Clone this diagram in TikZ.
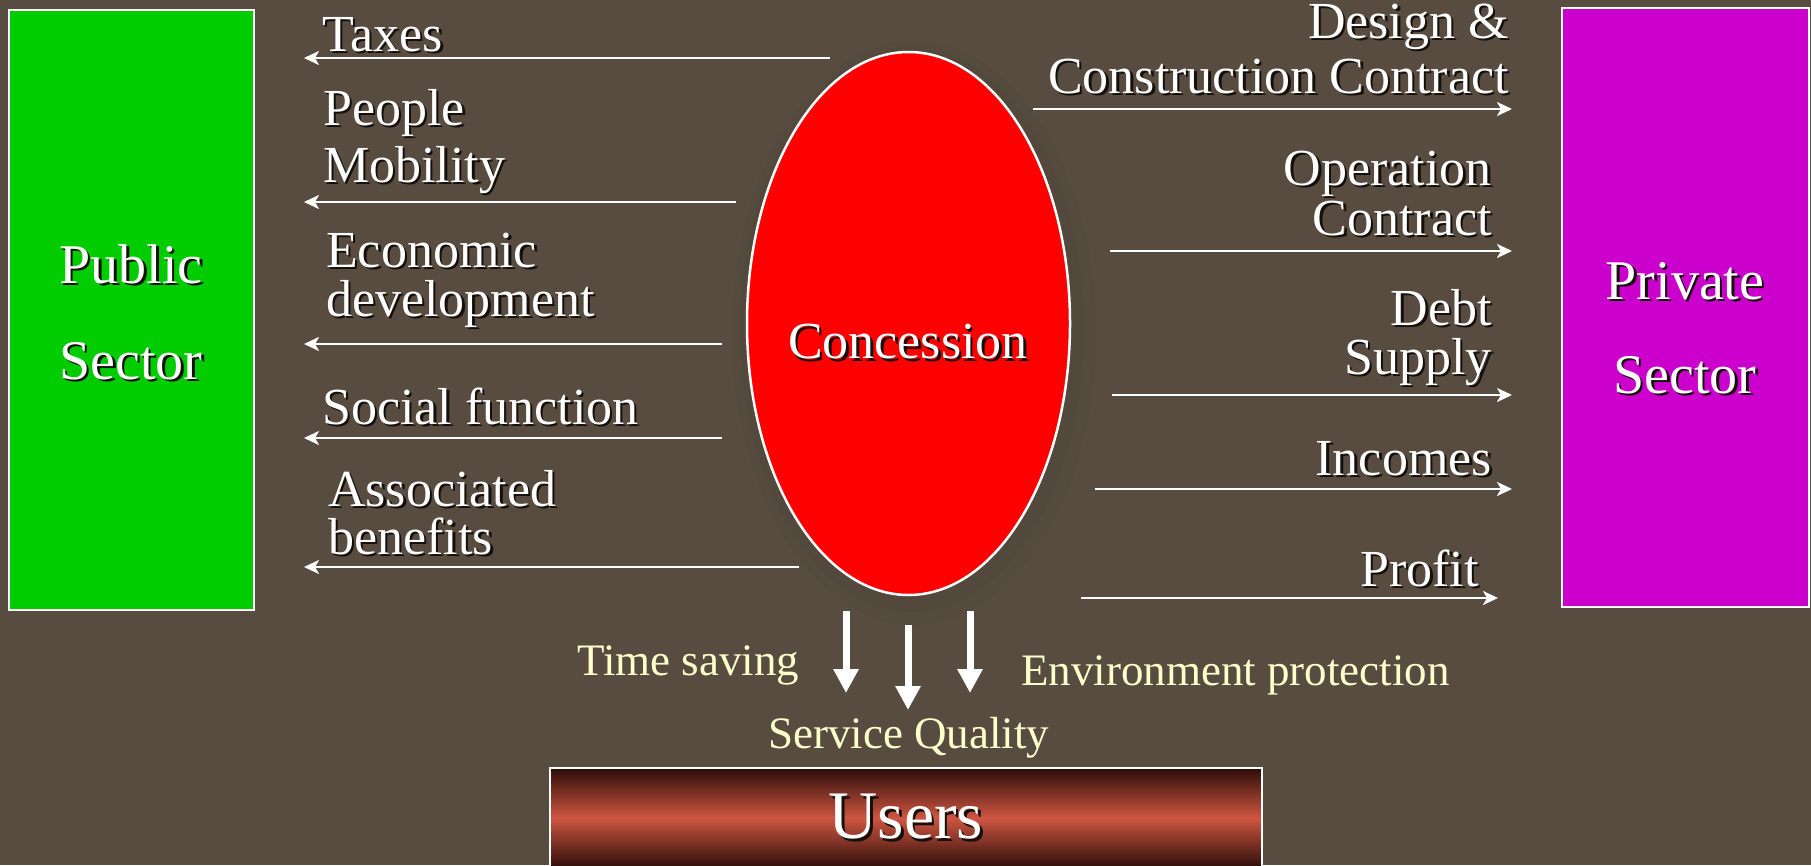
\documentclass[tikz,border=0pt]{standalone}
\usepackage{fontspec}
\setmainfont{Liberation Serif}
\usetikzlibrary{arrows.meta,shapes.geometric}

\definecolor{bgbrown}{HTML}{574C3F}
\definecolor{pubgreen}{HTML}{00CC00}
\definecolor{privmag}{HTML}{CC00CC}
\definecolor{concred}{HTML}{FF0000}
\definecolor{cream}{HTML}{FFFFCC}
\definecolor{usersdark}{HTML}{2C0D08}
\definecolor{usersred}{HTML}{CD5541}
\definecolor{txtshadow}{HTML}{15100C}

% white lettering with a small dark drop shadow
\newcommand\shadowed[1]{\leavevmode\rlap{\kern2.5pt\raisebox{-2.5pt}{\textcolor{txtshadow}{#1}}}#1}

\tikzset{
  flow/.style={draw=white, line width=2.5pt, -{Stealth[length=15pt,width=14pt,inset=4pt]}},
  userflow/.style={draw=white, line width=7pt, -{Triangle[length=24pt,width=24pt]}},
  lbl/.style={text=white, inner sep=0pt, font=\fontsize{52}{57}\selectfont},
  leftlbl/.style={lbl, anchor=base west, align=left},
  rightlbl/.style={lbl, anchor=base east, align=right},
  benefit/.style={text=cream, inner sep=0pt, anchor=base west, font=\fontsize{45}{50}\selectfont},
  sectorbox/.style={draw=white, line width=2.5pt, inner sep=0pt, minimum width=245pt, minimum height=600pt},
  sectortext/.style={text=white, inner sep=0pt, align=center},
}

\begin{document}
\begin{tikzpicture}[x=1pt, y=-1pt]
  \useasboundingbox (0,0) rectangle (1811,865);
  \clip (0,0) rectangle (1811,865);
  \fill[bgbrown] (0,0) rectangle (1811,865);

  % the three parties
  \node[sectorbox, fill=pubgreen] (public) at (131.5,310) {};
  \node[sectorbox, fill=privmag, minimum width=247pt, minimum height=599pt] (private) at (1685.5,307.5) {};
  \node[sectortext, font=\fontsize{56}{96}\selectfont] (publictext) at (131,313.5) {\shadowed{Public}\\\shadowed{Sector}};
  \node[sectortext, font=\fontsize{56}{94}\selectfont] (privatetext) at (1685,329) {\shadowed{Private}\\\shadowed{Sector}};

  % faint soft shadow under the concession ellipse
  \fill[black, opacity=0.025] (914,333) ellipse [x radius=182pt, y radius=292pt];
  \fill[black, opacity=0.025] (912,330) ellipse [x radius=172pt, y radius=282pt];
  \node[ellipse, draw=white, line width=2.5pt, fill=concred, inner sep=0pt,
        minimum width=323pt, minimum height=543pt] (conc) at (908.5,323.5) {};
  \node[text=white, inner sep=0pt, font=\fontsize{52}{57}\selectfont] (conctext) at (908,343) {\shadowed{Concession}};

  \node[draw=white, line width=2.5pt, inner sep=0pt, minimum width=712pt, minimum height=100pt,
        shade, top color=usersdark, bottom color=usersdark, middle color=usersred,
        text=white, font=\fontsize{68}{72}\selectfont] (users) at (906,818) {\shadowed{Users}};

  % flows towards the public sector
  \coordinate (taxS) at (830,58);   \coordinate (taxE) at (304,58);
  \coordinate (mobS) at (736,202);  \coordinate (mobE) at (304,202);
  \coordinate (ecoS) at (722,344);  \coordinate (ecoE) at (304,344);
  \coordinate (socS) at (722,438);  \coordinate (socE) at (304,438);
  \coordinate (assS) at (799,567);  \coordinate (assE) at (304,567);
  \draw[flow] (taxS) -- (taxE);
  \draw[flow] (mobS) -- (mobE);
  \draw[flow] (ecoS) -- (ecoE);
  \draw[flow] (socS) -- (socE);
  \draw[flow] (assS) -- (assE);

  % multi-line labels are placed by the baseline of their last line
  \node[leftlbl] (taxes) at (322,51) {\shadowed{Taxes}};
  \node[leftlbl, font=\fontsize{52}{57}\selectfont] (mobility) at (323,182) {\shadowed{People}\\\shadowed{Mobility}};
  \node[leftlbl, font=\fontsize{52}{49}\selectfont] (economic) at (326,316) {\shadowed{Economic}\\\shadowed{development}};
  \node[leftlbl] (social) at (322,424) {\shadowed{Social function}};
  \node[leftlbl, font=\fontsize{52}{48}\selectfont] (associated) at (328,554) {\shadowed{Associated}\\\shadowed{benefits}};

  % flows towards the private sector
  \coordinate (desS) at (1033,109); \coordinate (desE) at (1512,109);
  \coordinate (opeS) at (1110,251); \coordinate (opeE) at (1512,251);
  \coordinate (debS) at (1112,395); \coordinate (debE) at (1512,395);
  \coordinate (incS) at (1095,489); \coordinate (incE) at (1512,489);
  \coordinate (proS) at (1081,598); \coordinate (proE) at (1498,598);
  \draw[flow] (desS) -- (desE);
  \draw[flow] (opeS) -- (opeE);
  \draw[flow] (debS) -- (debE);
  \draw[flow] (incS) -- (incE);
  \draw[flow] (proS) -- (proE);

  \node[rightlbl, font=\fontsize{52}{55}\selectfont] (design) at (1509,93) {\shadowed{Design \&}\\\shadowed{Construction Contract}};
  \node[rightlbl, font=\fontsize{52}{50}\selectfont] (operation) at (1492,235) {\shadowed{Operation}\\\shadowed{Contract}};
  \node[rightlbl, font=\fontsize{52}{49}\selectfont] (debt) at (1492,374) {\shadowed{Debt}\\\shadowed{Supply}};
  \node[rightlbl] (incomes) at (1492,475) {\shadowed{Incomes}};
  \node[rightlbl] (profit) at (1479,586) {\shadowed{Profit}};

  % flows towards the users
  \coordinate (timS) at (846,611); \coordinate (timE) at (846,693);
  \coordinate (serS) at (908,625); \coordinate (serE) at (908,710);
  \coordinate (envS) at (970,611); \coordinate (envE) at (970,693);
  \draw[userflow] (timS) -- (timE);
  \draw[userflow] (serS) -- (serE);
  \draw[userflow] (envS) -- (envE);

  \node[benefit] (timesaving) at (577,675) {Time saving};
  \node[benefit] (environment) at (1021,685) {Environment protection};
  \node[benefit] (quality) at (768,748) {Service Quality};
\end{tikzpicture}
\end{document}
